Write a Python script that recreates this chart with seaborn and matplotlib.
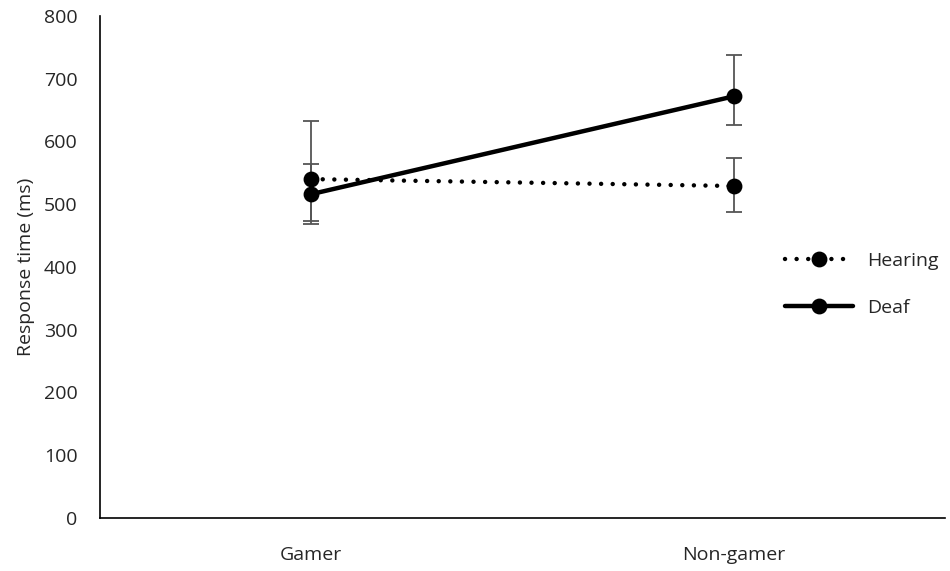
import numpy as np
import pandas as pd
import matplotlib
matplotlib.use('Agg')
import matplotlib.pyplot as plt
import seaborn as sns

# values
groups = ['Gamer', 'Non-gamer']
hearing_rt = [540, 529]
deaf_rt = [516, 672]
hearing_low = [474, 487]
hearing_high = [633, 573]
deaf_low = [468, 626]
deaf_high = [564, 738]

df = pd.DataFrame({
    'group': groups * 2,
    'rt': hearing_rt + deaf_rt,
    'status': ['Hearing'] * 2 + ['Deaf'] * 2,
})

sns.set_style('white')
plt.rcParams['font.family'] = ['Open Sans', 'DejaVu Sans']

fig = plt.figure(figsize=(9.5, 5.71), dpi=100)
ax = fig.add_axes([0.105, 0.093, 0.89, 0.879])

# error bars first so points sit on top
x = np.arange(len(groups))
for means, lo, hi in [(hearing_rt, hearing_low, hearing_high), (deaf_rt, deaf_low, deaf_high)]:
    m = np.array(means)
    yerr = [m - np.array(lo), np.array(hi) - m]
    ax.errorbar(x, m, yerr=yerr, fmt='none', ecolor='#555555', elinewidth=1.3,
                capsize=6, capthick=1.3, zorder=1)

sns.pointplot(data=df, x='group', y='rt', hue='status', order=groups,
              hue_order=['Hearing', 'Deaf'], palette=['black', 'black'],
              markers=['o', 'o'], linestyles=[':', '-'], errorbar=None,
              markersize=9, linewidth=3.2, ax=ax, zorder=3)

# round dots for the hearing line
dotted = (0, (0.01, 2.6))
for ln in ax.lines:
    if ln.get_linestyle() == ':':
        ln.set_linestyle(dotted)
        ln.set_dash_capstyle('round')

ax.set_xlim(-0.5, 1.5)
ax.set_ylim(0, 800)
ax.set_yticks(range(0, 801, 100))
ax.set_xlabel('')
ax.set_ylabel('Response time (ms)', fontsize=14, labelpad=6)
ax.tick_params(axis='both', labelsize=14, length=0)
ax.tick_params(axis='x', pad=20)
ax.tick_params(axis='y', pad=16)
sns.despine(ax=ax)
for s in ['left', 'bottom']:
    ax.spines[s].set_color('black')
    ax.spines[s].set_linewidth(1.2)

handles, labels = ax.get_legend_handles_labels()
for h in handles:
    if h.get_linestyle() == ':':
        h.set_linestyle(dotted)
        h.set_dash_capstyle('round')
ax.legend(handles, labels, loc='center left', bbox_to_anchor=(0.79, 0.465),
          frameon=False, fontsize=14, handlelength=3.5, labelspacing=1.5,
          handletextpad=0.7)

fig.savefig('out.png', dpi=100)
